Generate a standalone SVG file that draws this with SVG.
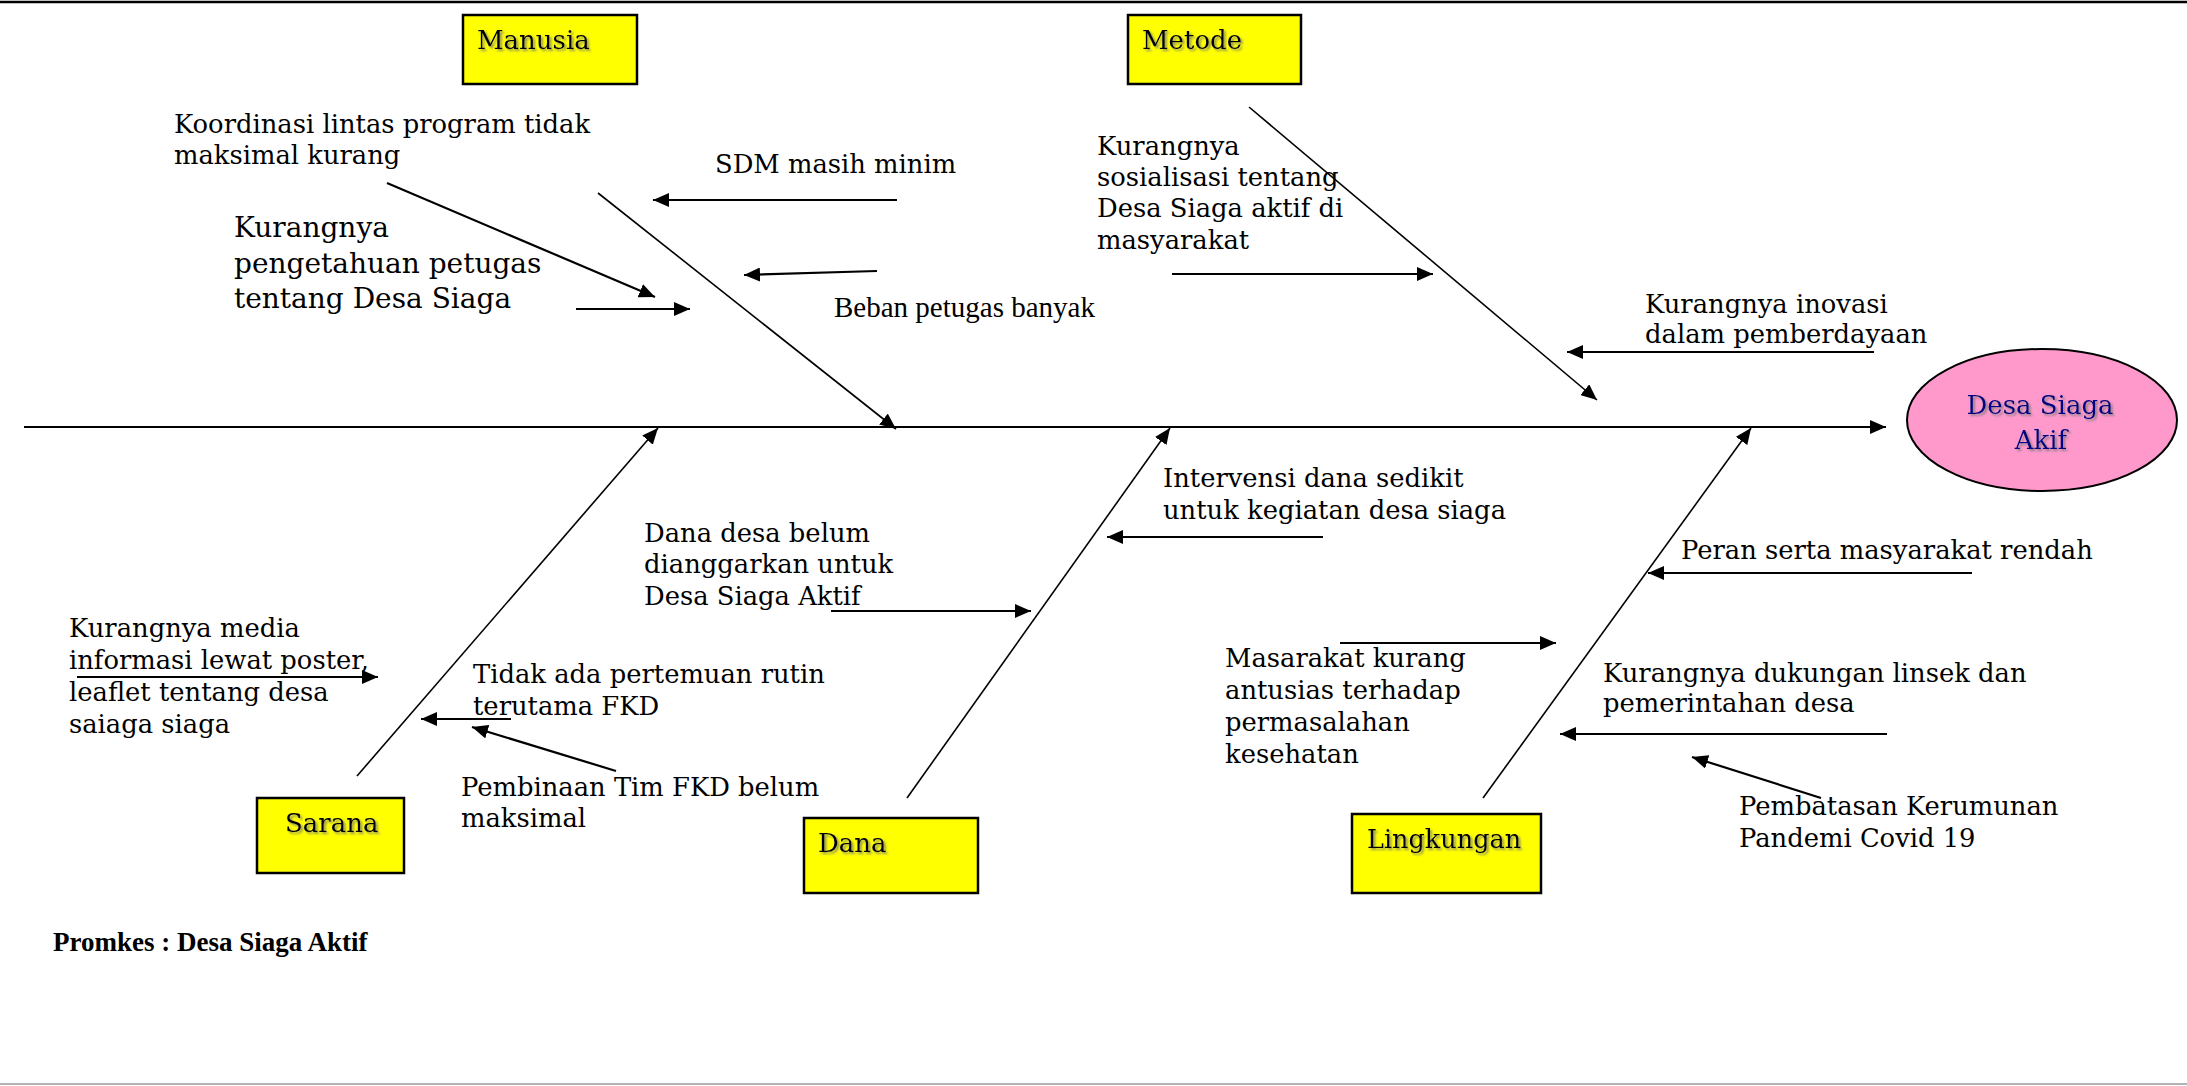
<svg xmlns="http://www.w3.org/2000/svg" width="2187" height="1086" viewBox="0 0 2187 1086">
<style>
.lbl{font-family:"DejaVu Serif","Liberation Serif",serif;font-size:25.8px;fill:#000}
.big{font-size:28px}
.tms{font-family:"Liberation Serif",serif;font-size:29px;fill:#000}
.box{fill:#FFFF00;stroke:#000;stroke-width:2.5}
.boxt{font-family:"DejaVu Serif","Liberation Serif",serif;font-size:26px;fill:#000;filter:url(#sh)}
.ar{stroke:#000;stroke-width:2.2;fill:none;marker-end:url(#ah)}
.bone{stroke:#000;stroke-width:1.6;fill:none;marker-end:url(#ah)}
</style>
<defs>
<marker id="ah" viewBox="0 0 16 14" refX="16" refY="7" markerWidth="16" markerHeight="14" markerUnits="userSpaceOnUse" orient="auto">
<path d="M0,0 L16,7 L0,14 z" fill="#000"/>
</marker>
<filter id="sh" x="-10%" y="-20%" width="130%" height="160%">
<feDropShadow dx="2" dy="2" stdDeviation="1" flood-color="#777" flood-opacity="0.8"/>
</filter>
</defs>
<rect width="2187" height="1086" fill="#fff"/>
<line x1="0" y1="2" x2="2187" y2="2" stroke="#000" stroke-width="2.5"/>
<line x1="0" y1="1084" x2="2187" y2="1084" stroke="#999" stroke-width="1.5"/>

<g id="connectors">
<line class="ar" x1="24" y1="427" x2="1886" y2="427"/>
<line class="bone" x1="598" y1="193" x2="896" y2="429"/>
<line class="bone" x1="1249" y1="107" x2="1597" y2="400"/>
<line class="bone" x1="357" y1="776" x2="658" y2="428"/>
<line class="bone" x1="907" y1="798" x2="1170" y2="428"/>
<line class="bone" x1="1483" y1="798" x2="1751" y2="428"/>
<line class="ar" x1="387" y1="183" x2="655" y2="297"/>
<line class="ar" x1="576" y1="309" x2="690" y2="309"/>
<line class="ar" x1="897" y1="200" x2="653" y2="200"/>
<line class="ar" x1="877" y1="271" x2="744" y2="275"/>
<line class="ar" x1="1172" y1="274" x2="1433" y2="274"/>
<line class="ar" x1="1874" y1="352" x2="1567" y2="352"/>
<line class="ar" x1="77" y1="677" x2="378" y2="677"/>
<line class="ar" x1="511" y1="719" x2="421" y2="719"/>
<line class="ar" x1="616" y1="771" x2="472" y2="727"/>
<line class="ar" x1="831" y1="611" x2="1031" y2="611"/>
<line class="ar" x1="1323" y1="537" x2="1107" y2="537"/>
<line class="ar" x1="1340" y1="643" x2="1556" y2="643"/>
<line class="ar" x1="1972" y1="573" x2="1648" y2="573"/>
<line class="ar" x1="1887" y1="734" x2="1560" y2="734"/>
<line class="ar" x1="1821" y1="798" x2="1692" y2="757"/>
</g>

<g id="manusia">
<rect class="box" x="463" y="15" width="174" height="69"/>
<text class="boxt" x="477" y="49">Manusia</text>
</g>
<g id="metode">
<rect class="box" x="1128" y="15" width="173" height="69"/>
<text class="boxt" x="1142" y="49">Metode</text>
</g>
<g id="sarana">
<rect class="box" x="257" y="798" width="147" height="75"/>
<text class="boxt" x="285" y="832">Sarana</text>
</g>
<g id="dana">
<rect class="box" x="804" y="818" width="174" height="75"/>
<text class="boxt" x="818" y="852">Dana</text>
</g>
<g id="lingkungan">
<rect class="box" x="1352" y="814" width="189" height="79"/>
<text class="boxt" x="1367" y="848" style="font-size:25.5px">Lingkungan</text>
</g>
<g id="desa-siaga-aktif">
<ellipse cx="2042" cy="420" rx="135" ry="71" fill="#FF99CC" stroke="#000" stroke-width="2"/>
<text class="boxt" x="2040" y="414" text-anchor="middle" style="fill:#000080">Desa Siaga</text>
<text class="boxt" x="2041" y="449" text-anchor="middle" style="fill:#000080">Akif</text>
</g>

<g id="koordinasi">
<text class="lbl" x="174" y="133">Koordinasi lintas program tidak</text>
<text class="lbl" x="174" y="164">maksimal kurang</text>
</g>
<g id="pengetahuan">
<text class="lbl big" x="234" y="237">Kurangnya</text>
<text class="lbl big" x="234" y="273">pengetahuan petugas</text>
<text class="lbl big" x="234" y="308">tentang Desa Siaga</text>
</g>
<g id="sdm">
<text class="lbl" x="715" y="173">SDM masih minim</text>
</g>
<g id="beban">
<text class="tms" x="834" y="317">Beban petugas banyak</text>
</g>
<g id="sosialisasi">
<text class="lbl" x="1097" y="155">Kurangnya</text>
<text class="lbl" x="1097" y="186">sosialisasi tentang</text>
<text class="lbl" x="1097" y="217">Desa Siaga aktif di</text>
<text class="lbl" x="1097" y="249">masyarakat</text>
</g>
<g id="inovasi">
<text class="lbl" x="1645" y="313">Kurangnya inovasi</text>
<text class="lbl" x="1645" y="343">dalam pemberdayaan</text>
</g>
<g id="media">
<text class="lbl" x="69" y="637">Kurangnya media</text>
<text class="lbl" x="69" y="669">informasi lewat poster,</text>
<text class="lbl" x="69" y="701">leaflet tentang desa</text>
<text class="lbl" x="69" y="733">saiaga siaga</text>
</g>
<g id="pertemuan">
<text class="lbl" x="473" y="683">Tidak ada pertemuan rutin</text>
<text class="lbl" x="473" y="715">terutama FKD</text>
</g>
<g id="pembinaan">
<text class="lbl" x="461" y="796">Pembinaan Tim FKD belum</text>
<text class="lbl" x="461" y="827">maksimal</text>
</g>
<g id="dana-desa">
<text class="lbl" x="644" y="542">Dana desa belum</text>
<text class="lbl" x="644" y="573">dianggarkan untuk</text>
<text class="lbl" x="644" y="605">Desa Siaga Aktif</text>
</g>
<g id="intervensi">
<text class="lbl" x="1163" y="487">Intervensi dana sedikit</text>
<text class="lbl" x="1163" y="519">untuk kegiatan desa siaga</text>
</g>
<g id="masarakat">
<text class="lbl" x="1225" y="667">Masarakat kurang</text>
<text class="lbl" x="1225" y="699">antusias terhadap</text>
<text class="lbl" x="1225" y="731">permasalahan</text>
<text class="lbl" x="1225" y="763">kesehatan</text>
</g>
<g id="peran">
<text class="lbl" x="1681" y="559">Peran serta masyarakat rendah</text>
</g>
<g id="dukungan">
<text class="lbl" x="1603" y="682">Kurangnya dukungan linsek dan</text>
<text class="lbl" x="1603" y="712">pemerintahan desa</text>
</g>
<g id="pembatasan">
<text class="lbl" x="1739" y="815">Pembatasan Kerumunan</text>
<text class="lbl" x="1739" y="847">Pandemi Covid 19</text>
</g>
<g id="caption">
<text x="53" y="951" style="font-family:'Liberation Serif',serif;font-size:27px;font-weight:bold;fill:#000">Promkes : Desa Siaga Aktif</text>
</g>
</svg>
